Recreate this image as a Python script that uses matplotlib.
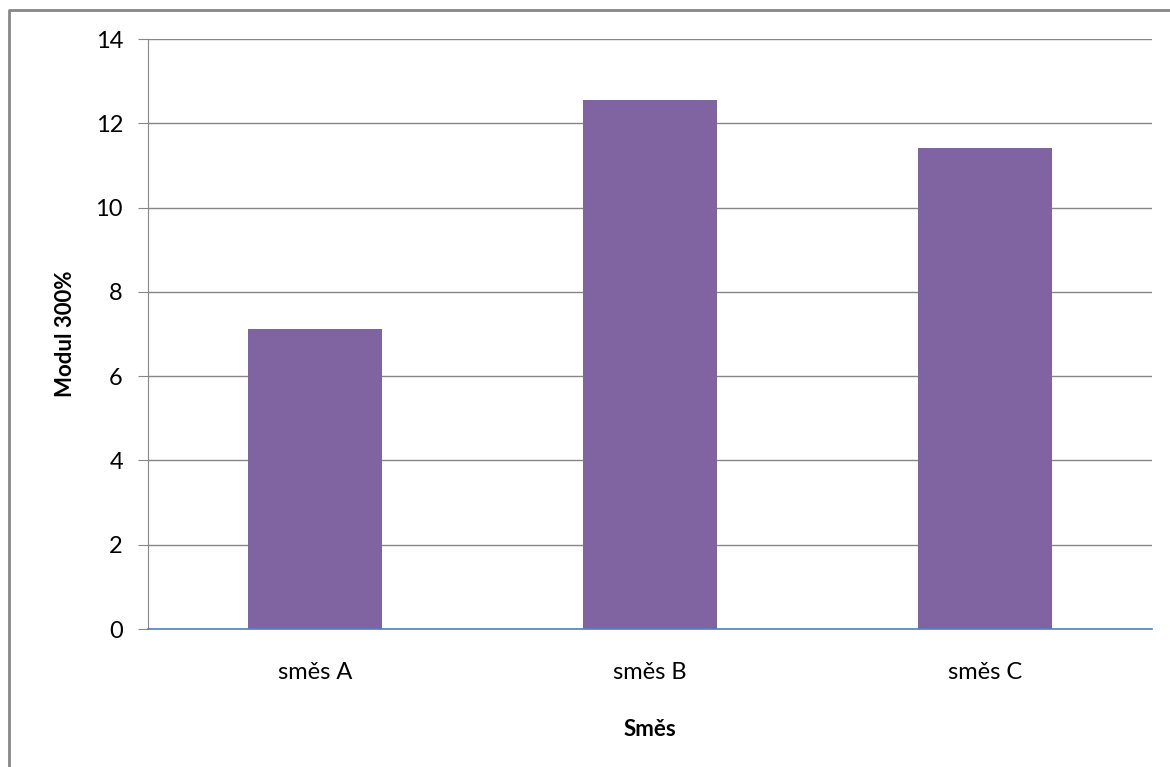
import matplotlib.pyplot as plt
from matplotlib.lines import Line2D

categories = ['směs A', 'směs B', 'směs C']
values = [7.12, 12.55, 11.41]
yticks = [0, 2, 4, 6, 8, 10, 12, 14]

plt.rcParams['font.family'] = ['Lato', 'DejaVu Sans']

W, H = 1170, 767
fig = plt.figure(figsize=(W / 100, H / 100), dpi=100)
ax = fig.add_axes([148 / W, 1 - 629 / H, (1152 - 148) / W, (629 - 39) / H])

x = range(len(categories))
ax.bar(x, values, width=0.4, color='#8064A2', zorder=3)
ax.set_xlim(-0.5, len(categories) - 0.5)
ax.set_ylim(0, 14)
ax.set_yticks(yticks)
ax.set_xticks(list(x))
ax.set_xticklabels(categories)
ax.grid(axis='y', color='#868686', linewidth=1, zorder=0)

for s in ['top', 'right']:
    ax.spines[s].set_visible(False)
ax.spines['left'].set_color('#868686')
ax.spines['bottom'].set_color('#4F81BD')
ax.spines['bottom'].set_linewidth(1.2)
ax.spines['bottom'].set_zorder(4)
ax.tick_params(axis='y', length=7, color='#868686', labelsize=17, pad=11)
ax.tick_params(axis='x', length=0, labelsize=17, pad=24)

ax.set_ylabel('Modul 300%', fontsize=16, fontweight='bold', labelpad=14)
ax.set_xlabel('Směs', fontsize=16, fontweight='bold', labelpad=26)

# outer chart border (only top and left edges are visible in the crop)
fig.lines.append(Line2D([9 / W, 9 / W, 1], [0, 1 - 10 / H, 1 - 10 / H], transform=fig.transFigure,
                        color='#878787', linewidth=2))

fig.savefig('out.png', dpi=100)
